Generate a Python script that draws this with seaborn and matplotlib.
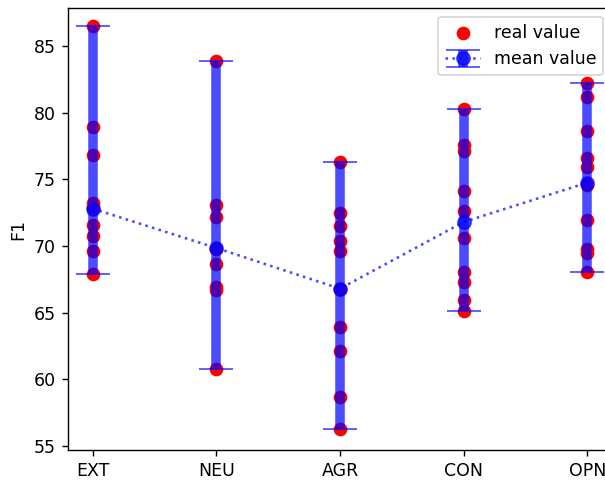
import numpy as np
import pandas as pd
import matplotlib
matplotlib.use("Agg")
import matplotlib.pyplot as plt
import seaborn as sns

traits = ["EXT", "NEU", "AGR", "CON", "OPN"]

# F1 per run
ext = [86.5, 78.9, 76.8, 73.25, 72.9, 71.6, 70.75, 69.6, 67.9]
neu = [83.9, 73.1, 72.15, 69.8, 68.65, 66.9, 66.7, 60.8]
agr = [76.3, 72.45, 71.5, 70.4, 69.6, 66.8, 63.95, 62.1, 58.7, 56.3]
con = [80.3, 77.6, 77.1, 74.1, 72.6, 70.6, 68.05, 67.3, 65.95, 65.1]
opn = [82.25, 81.2, 78.6, 76.6, 75.95, 74.6, 71.95, 69.8, 69.45, 68.05]

mean_f1 = [72.8, 69.85, 66.8, 71.8, 74.75]

runs = [ext, neu, agr, con, opn]
df = pd.DataFrame({
    "trait": np.repeat(traits, [len(r) for r in runs]),
    "F1": np.concatenate(runs),
})

lo = [min(r) for r in runs]
hi = [max(r) for r in runs]
yerr = [np.array(mean_f1) - np.array(lo), np.array(hi) - np.array(mean_f1)]

fig = plt.figure(figsize=(605 / 125, 482 / 125), dpi=125)
ax = fig.add_axes([68 / 605, 32 / 482, 544 / 605, 442 / 482])

sns.scatterplot(data=df, x="trait", y="F1", color="red", s=62,
                linewidth=0, ax=ax, label="real value", zorder=2)

ax.errorbar(np.arange(len(traits)), mean_f1, yerr=yerr, color="blue",
            alpha=0.7, fmt="o", ls=":", lw=1.5, ms=7.5, elinewidth=5.5,
            capsize=10, capthick=1, label="mean value", zorder=3)

ax.set_xlim(-0.2, 4.2)
ax.set_ylim(54.7, 87.85)
ax.set_xlabel("")
ax.set_ylabel("F1")
ax.legend(loc="upper right")

fig.savefig("out.png", dpi=125)
